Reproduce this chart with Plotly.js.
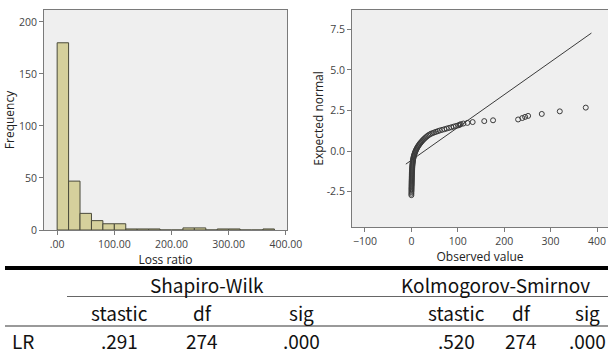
<!DOCTYPE html>
<html>
<head>
<meta charset="utf-8">
<script src="https://cdn.plot.ly/plotly-3.0.1.min.js"></script>
<style>html,body{margin:0;padding:0;background:#fff;}#chart{width:608px;height:354px;}</style>
</head>
<body>
<div id="chart"></div>
<script>
// Histogram of loss ratio (bin lower edges, bin width 20)
const binLower = [0, 20, 40, 60, 80, 100, 120, 140, 160, 180, 200, 220, 240, 260, 280, 300, 320, 340, 360];
const binCounts = [180, 47, 16, 9, 6, 6, 1, 1, 1, 0, 0, 2, 2, 0, 1, 1, 0, 0, 1];
const histTickVals = [0, 100, 200, 300, 400];
const histTickText = ['.00', '100.00', '200.00', '300.00', '400.00'];
const freqTickVals = [0, 50, 100, 150, 200];

const qqObserved = [0.0, 0.0, 0.1, 0.2, 0.2, 0.3, 0.3, 0.4, 0.4, 0.5, 0.5, 0.6, 0.6, 0.7, 0.7, 0.8, 0.8, 0.9, 1.0, 1.0,
  1.1, 1.2, 1.3, 1.4, 1.5, 1.6, 1.8, 1.9, 2.1, 2.3, 2.5, 2.7, 3.0, 3.3, 3.6, 4.0, 4.4, 4.9, 5.4, 6.0,
  6.7, 7.4, 8.2, 9.1, 10.0, 11.0, 12.1, 13.3, 14.6, 16.0, 17.5, 19.1, 20.8, 22.6, 24.5, 26.5, 28.7, 31.0, 33.5, 36.2,
  39.0, 42.0, 45.5, 49.0, 53.0, 57.0, 61.0, 66.0, 71.0, 76.0, 81.0, 86.0, 91.0, 96.0, 101.0, 104.0, 106.5, 112.0, 120.7, 132.0,
  157.0, 176.0, 230.0, 239.0, 245.0, 251.5, 281.0, 319.8, 375.8];
const qqExpected = [-2.71, -2.62, -2.52, -2.44, -2.36, -2.29, -2.22, -2.15, -2.09, -2.03, -1.97, -1.91, -1.85, -1.79, -1.73, -1.67, -1.61, -1.55, -1.49, -1.43,
  -1.37, -1.31, -1.25, -1.19, -1.13, -1.07, -1.01, -0.95, -0.89, -0.83, -0.77, -0.71, -0.65, -0.59, -0.53, -0.47, -0.41, -0.35, -0.29, -0.23,
  -0.17, -0.11, -0.05, 0.01, 0.07, 0.13, 0.19, 0.25, 0.31, 0.37, 0.43, 0.49, 0.55, 0.61, 0.67, 0.73, 0.79, 0.85, 0.91, 0.97,
  1.02, 1.07, 1.11, 1.15, 1.19, 1.23, 1.27, 1.31, 1.35, 1.39, 1.43, 1.47, 1.51, 1.55, 1.59, 1.62, 1.66, 1.70, 1.74, 1.79,
  1.85, 1.90, 1.95, 2.04, 2.11, 2.17, 2.29, 2.45, 2.68];
const refLineX = [-12, 388];
const refLineY = [-0.8, 7.27];
const qqXTickVals = [-100, 0, 100, 200, 300, 400];
const qqYTickVals = [-2.5, 0, 2.5, 5, 7.5];
const qqYTickText = ['-2.5', '0.0', '2.5', '5.0', '7.5'];

// Normality test table
const groupHeaders = ['Shapiro-Wilk', 'Kolmogorov-Smirnov'];
const colHeaders = ['stastic', 'df', 'sig', 'stastic', 'df', 'sig'];
const rowLabel = 'LR';
const rowValues = ['.291', '274', '.000', '.520', '274', '.000'];

const W = 608, H = 354;
const py = p => 1 - p / H;
const px = p => p / W;

const traces = [
  {
    type: 'bar', x: binLower, y: binCounts, width: 20, offset: 0,
    marker: {color: '#d5d09c', line: {color: '#4a4a3a', width: 1}},
    xaxis: 'x', yaxis: 'y', hoverinfo: 'x+y'
  },
  {
    type: 'scatter', mode: 'lines', x: refLineX, y: refLineY,
    line: {color: '#3a3a3a', width: 1}, xaxis: 'x2', yaxis: 'y2'
  },
  {
    type: 'scatter', mode: 'markers', x: qqObserved, y: qqExpected,
    marker: {symbol: 'circle-open', size: 5, color: '#3a3a3a', line: {width: 1, color: '#3a3a3a'}},
    xaxis: 'x2', yaxis: 'y2'
  }
];

const axBase = {
  showgrid: false, zeroline: false, showline: true, linecolor: '#7a7a7a', linewidth: 1,
  ticks: 'outside', ticklen: 4, tickcolor: '#7a7a7a', tickwidth: 1,
  tickfont: {family: 'Open Sans', size: 10.5, color: '#444'}, fixedrange: true
};

const tableFont = {family: '"Noto Sans CJK KR", sans-serif', size: 19, color: '#111'};
const colX = [119, 202, 301, 456, 521, 587];
const groupX = [207, 495];

const annotations = [];
groupHeaders.forEach((t, i) => annotations.push({
  text: t, x: px(groupX[i]), y: py(284), xref: 'paper', yref: 'paper',
  showarrow: false, xanchor: 'center', yanchor: 'middle', font: tableFont
}));
colHeaders.forEach((t, i) => annotations.push({
  text: t, x: px(colX[i]), y: py(312), xref: 'paper', yref: 'paper',
  showarrow: false, xanchor: 'center', yanchor: 'middle', font: tableFont
}));
annotations.push({
  text: rowLabel, x: px(23), y: py(340), xref: 'paper', yref: 'paper',
  showarrow: false, xanchor: 'center', yanchor: 'middle', font: tableFont
});
rowValues.forEach((t, i) => annotations.push({
  text: t, x: px(colX[i]), y: py(340), xref: 'paper', yref: 'paper',
  showarrow: false, xanchor: 'center', yanchor: 'middle', font: tableFont
}));

const shapes = [
  {type: 'line', xref: 'paper', yref: 'paper', x0: px(5), x1: 1, y0: py(268), y1: py(268), line: {color: '#000', width: 4}},
  {type: 'line', xref: 'paper', yref: 'paper', x0: px(67), x1: 1, y0: py(296.5), y1: py(296.5), line: {color: '#666', width: 1}},
  {type: 'line', xref: 'paper', yref: 'paper', x0: px(5), x1: 1, y0: py(326), y1: py(326), line: {color: '#777', width: 1.5}}
];

const titleFont = {family: 'Open Sans', size: 12, color: '#222'};
const layout = {
  width: W, height: H,
  margin: {l: 0, r: 0, t: 0, b: 0, pad: 0},
  paper_bgcolor: '#ffffff', plot_bgcolor: '#efefef',
  showlegend: false, bargap: 0,
  font: {family: 'Open Sans', color: '#333'},
  xaxis: Object.assign({}, axBase, {
    domain: [px(44), px(287)], range: [-23, 402], anchor: 'y', mirror: true,
    tickvals: histTickVals, ticktext: histTickText,
    title: {text: 'Loss ratio', font: titleFont, standoff: 0}
  }),
  yaxis: Object.assign({}, axBase, {
    domain: [py(230), py(10)], range: [0, 211.5], anchor: 'x', mirror: true,
    tickvals: freqTickVals,
    title: {text: 'Frequency', font: titleFont, standoff: 1}
  }),
  xaxis2: Object.assign({}, axBase, {
    domain: [px(352), 1], range: [-128, 423.7], anchor: 'y2', mirror: true,
    tickvals: qqXTickVals,
    title: {text: 'Observed value', font: titleFont, standoff: 0}
  }),
  yaxis2: Object.assign({}, axBase, {
    domain: [py(227), py(10)], range: [-4.67, 8.69], anchor: 'x2', mirror: false,
    tickvals: qqYTickVals, ticktext: qqYTickText,
    title: {text: 'Expected normal', font: titleFont, standoff: 0}
  }),
  annotations: annotations,
  shapes: shapes
};

Plotly.newPlot('chart', traces, layout, {displayModeBar: false, staticPlot: true});
</script>
</body>
</html>
